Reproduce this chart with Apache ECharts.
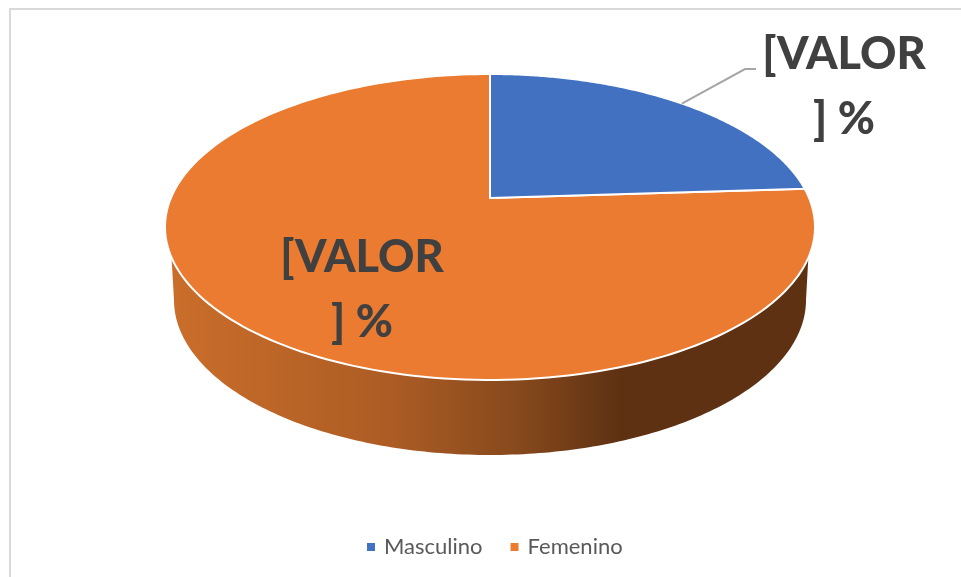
<!DOCTYPE html>
<html>
<head>
<meta charset="utf-8">
<style>
  html, body { margin: 0; padding: 0; background: #fff; }
  #chart { width: 961px; height: 577px; }
</style>
</head>
<body>
<div id="chart"></div>
<script src="https://cdn.jsdelivr.net/npm/echarts@6/dist/echarts.min.js"></script>
<script>
// chart data
var categories = ['Masculino', 'Femenino'];
var values = [24, 76];
var sliceLabels = ['[VALOR\n] %', '[VALOR\n] %'];

// look of the tilted disc (top ellipse, bottom ellipse, vanishing shift of the apex)
var colors = ['#4171C0', '#EB7B30'];
var top3d = { cx: 490, cy: 227, rx: 325, ry: 153 };
var bottom3d = { cx: 490, cy: 300, rx: 316, ry: 155 };
var apexShift = 0.19;
var labelPos = [[844, 87], [362, 290]];
var total = values[0] + values[1];

// circle point -> screen point, with perspective so the centre sits above the ellipse middle
function project(frac) {
    var a = frac * Math.PI * 2;
    var u = Math.sin(a), v = Math.cos(a);
    var d = 1 + apexShift * v;
    var x = u * Math.sqrt(1 - apexShift * apexShift) / d;
    var y = (v + apexShift) / d;
    return [top3d.cx + top3d.rx * x, top3d.cy - top3d.ry * y];
}

function sliceRange(idx) {
    var start = 0;
    for (var i = 0; i < idx; i++) start += values[i];
    return [start / total, (start + values[idx]) / total];
}

function ellipsePoint(e, deg) {
    var r = deg * Math.PI / 180;
    return [e.cx + e.rx * Math.cos(r), e.cy + e.ry * Math.sin(r)];
}

function wall() {
    var pts = [], d;
    for (d = -8.6; d <= 188.6; d += 1) pts.push(ellipsePoint(top3d, d));
    for (d = 180; d >= 0; d -= 1) pts.push(ellipsePoint(bottom3d, d));
    return {
        type: 'polygon',
        shape: { points: pts },
        style: {
            fill: new echarts.graphic.LinearGradient(0, 0, 1, 0, [
                { offset: 0, color: '#CB6E2B' },
                { offset: 0.35, color: '#AC5C24' },
                { offset: 0.55, color: '#85481C' },
                { offset: 0.7, color: '#5E3113' },
                { offset: 1, color: '#5E3113' }
            ])
        }
    };
}

function renderSlice(idx) {
    return function () {
        var range = sliceRange(idx);
        var pts = [[top3d.cx, top3d.cy - top3d.ry * apexShift]];
        var steps = 180;
        for (var i = 0; i <= steps; i++) {
            pts.push(project(range[0] + (range[1] - range[0]) * i / steps));
        }
        var children = [];
        if (idx === 1) children.push(wall());
        children.push({
            type: 'polygon',
            shape: { points: pts },
            style: { fill: colors[idx], stroke: '#fff', lineWidth: 2 }
        });
        if (idx === 0) {
            // leader line from the middle of the slice to the label
            var mid = project((range[0] + range[1]) / 2);
            children.push({
                type: 'polyline',
                shape: { points: [mid, [745, 69], [756, 69]] },
                style: { fill: null, stroke: '#A6A6A6', lineWidth: 2 }
            });
        }
        children.push({
            type: 'text',
            x: labelPos[idx][0],
            y: labelPos[idx][1],
            style: {
                text: sliceLabels[idx],
                fill: '#404040',
                font: '900 45px Lato',
                lineHeight: 65,
                align: 'center',
                verticalAlign: 'middle'
            }
        });
        return { type: 'group', children: children };
    };
}

var myChart = echarts.init(document.getElementById('chart'));
myChart.setOption({
    animation: false,
    backgroundColor: '#fff',
    legend: {
        data: categories,
        left: 362,
        top: 531,
        icon: 'rect',
        itemWidth: 8,
        itemHeight: 8,
        itemGap: 28,
        textStyle: { color: '#595959', fontFamily: 'Lato', fontSize: 22, padding: [0, 0, 0, 4] }
    },
    graphic: [
        { type: 'polyline', shape: { points: [[10, 577], [10, 9], [961, 9]] }, style: { fill: null, stroke: '#D9D9D9', lineWidth: 2 } }
    ],
    series: [
        { name: categories[1], type: 'custom', coordinateSystem: 'none', z: 1, data: [values[1]], itemStyle: { color: colors[1] }, renderItem: renderSlice(1) },
        { name: categories[0], type: 'custom', coordinateSystem: 'none', z: 2, data: [values[0]], itemStyle: { color: colors[0] }, renderItem: renderSlice(0) }
    ]
});
</script>
</body>
</html>
